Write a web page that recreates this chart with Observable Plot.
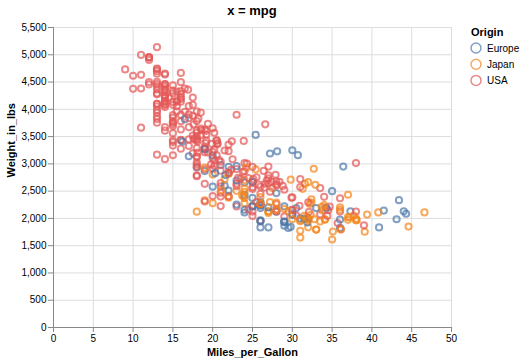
<!DOCTYPE html>
<html><head><meta charset="utf-8">
<script src="https://cdn.jsdelivr.net/npm/d3@7"></script>
<script src="https://cdn.jsdelivr.net/npm/@observablehq/plot@0.6"></script>
<style>
body{margin:0;background:#fff;font-family:"Liberation Sans",Arial,Helvetica,sans-serif;}
#wrap{position:relative;width:525px;height:364px;}
#title{position:absolute;left:0;width:504px;top:3px;text-align:center;font-weight:bold;font-size:13px;color:#000;}
#legend{position:absolute;left:464px;top:22px;}
</style></head>
<body><div id="wrap"><div id="title">x = mpg</div><div id="chart"></div><svg id="legend" width="61" height="70"></svg></div>
<script>
const title = "x = mpg";
const xLabel = "Miles_per_Gallon";
const yLabel = "Weight_in_lbs";
const originNames = {E:"Europe", J:"Japan", U:"USA"};
const origins = ["Europe","Japan","USA"];
const colors = ["#4c78a8","#f58518","#e45756"];
const xTicks = [0,5,10,15,20,25,30,35,40,45,50];
const yTicks = [0,500,1000,1500,2000,2500,3000,3500,4000,4500,5000,5500];

const mpg = [
18,15,18,16,17,15,14,14,14,15,15,14,15,14,24,22,18,21,27,26,25,24,25,26,21,10,10,11,9,
27,28,25,25,19,16,17,19,18,14,14,14,14,12,13,13,18,22,19,18,23,28,30,30,31,35,27,26,24,25,23,20,21,
13,14,15,14,17,11,13,12,13,19,15,13,13,14,18,22,21,26,22,28,23,28,27,
13,14,13,14,15,12,13,13,14,13,12,13,18,16,18,18,23,26,11,12,13,12,18,20,21,22,18,19,21,26,15,16,29,24,20,19,15,24,20,11,
20,21,19,15,31,26,32,25,16,16,18,16,13,14,14,14,29,26,26,31,32,28,24,26,24,26,31,
19,18,15,15,16,15,16,14,17,16,15,18,21,20,13,29,23,20,23,24,25,24,18,29,19,23,23,22,25,33,28,25,25,26,27,
17.5,16,15.5,14.5,22,22,24,22.5,29,24.5,29,33,20,18,18.5,17.5,29.5,32,28,26.5,20,13,19,19,16.5,16.5,13,13,13,
31.5,30,36,25.5,33.5,17.5,17,15.5,15,17.5,20.5,19,18.5,16,15.5,15.5,16,29,24.5,26,25.5,30.5,33.5,30,30.5,22,21.5,21.5,
43.1,36.1,32.8,39.4,36.1,19.9,19.4,20.2,19.2,20.5,20.2,25.1,20.5,19.4,20.6,20.8,18.6,18.1,19.2,17.7,18.1,17.5,30,27.5,27.2,30.9,21.1,23.2,23.8,23.9,20.3,17,21.6,16.2,31.5,29.5,
21.5,19.8,22.3,20.2,20.6,17,17.6,16.5,18.2,16.9,15.5,19.2,18.5,31.9,34.1,35.7,27.4,25.4,23,27.2,23.9,34.2,34.5,31.8,37.3,28.4,28.8,26.8,33.5,
41.5,38.1,32.1,37.2,28,26.4,24.3,19.1,34.3,29.8,31.3,37,32.2,46.6,27.9,40.8,44.3,43.4,36.4,30,44.6,40.9,33.8,29.8,32.7,23.7,35,32.4,
27.2,26.6,25.8,23.5,30,39.1,39,35.1,32.3,37,37.7,34.1,34.7,34.4,29.9,33,33.7,32.4,32.9,31.6,28.1,30.7,25.4,24.2,22.4,26.6,20.2,17.6,28,27,34,31,29,27,24,36,37,31,38,36,36,36,34,38,32,38,25,38,26,22,32,36,27,27,44,32,28,31
];
const weight = [
3504,3693,3436,3433,3449,4341,4354,4312,4425,3850,3563,3609,3761,3086,2372,2833,2774,2587,2130,1835,2672,2430,2375,2234,2648,4615,4376,4382,4732,
2130,2264,2228,2046,2634,3439,3329,3302,3288,4209,4464,4154,4096,4955,4746,5140,3962,2408,3282,3139,2220,2123,2074,2065,1773,1613,1834,1955,2278,2126,2254,2408,2226,
4274,4385,4135,4129,3672,4633,4502,4456,4422,2330,3892,4098,4294,4077,2933,2511,2979,2189,2395,2288,2506,2164,2100,
4100,3672,3988,4042,3777,4952,4464,4363,4237,4735,4951,3821,3121,3278,2945,3021,2904,1950,4997,4906,4654,4499,2789,2279,2401,2379,2124,2310,2472,2265,4082,4278,1867,2158,2582,2868,3399,2660,2807,3664,
3102,2875,2901,3336,1950,2451,1836,2542,3781,3632,3613,4141,4699,4457,4638,4257,2219,1963,2300,1649,2003,2125,2108,2246,2489,2391,2000,
3264,3459,3432,3158,4668,4440,4498,4657,3907,3897,3730,3785,3039,3221,3169,2171,2639,2914,2592,2702,2223,2545,2984,1937,3211,2694,2957,2945,2671,1795,2464,2220,2572,2255,2202,
4215,4190,3962,4215,3233,3353,3012,3085,2035,2164,1937,1795,3651,3574,3645,3193,1825,1990,2155,2565,3150,3940,3270,2930,3820,4380,4055,3870,3755,
2045,2155,1825,2300,1945,3880,4060,4140,4295,3520,3425,3630,3525,4220,4165,4325,4335,1940,2740,2265,2755,2051,2075,1985,2190,2815,2600,2720,
1985,1800,1985,2070,1800,3365,3735,3570,3535,3155,2965,2720,3430,3210,3380,3070,3620,3410,3425,3445,3205,4080,2155,2560,2300,2230,2515,2745,2855,2405,2830,3140,2795,3410,1990,2135,
3245,2990,2890,3265,3360,3840,3725,3955,3830,4360,4054,3605,3940,1925,1975,1915,2670,3530,3900,3190,3420,2200,2150,2020,2130,2670,2595,2700,2556,
2144,1968,2120,2019,2678,2870,3003,3381,2188,2711,2542,2434,2265,2110,2800,2110,2085,2335,2950,3250,1850,1835,2145,1845,2910,2420,2500,2290,
2490,2635,2620,2725,2385,1755,1875,1760,2065,1975,2050,1985,2215,2045,2380,2190,2210,2350,2615,2635,3230,3160,2900,2930,3415,3725,3060,3465,2605,2640,2395,2575,2525,2735,2865,1980,2025,1970,2125,2125,2160,2205,2245,1965,1965,1995,2945,3015,2585,2835,2665,2370,2950,2790,2130,2295,2625,2720
];
const originCode = (
"UUUUUUUUUUUUUUJUUUJEEEEEUUUUU" +
"JUJUUUUUUUUUUUUUUUUUUEEEJJEUJUEUU" +
"UUUUUUUUUJUUUUEEEEUJJUJ" +
"UUUUUUUUUUUUUUUUUEUUUUUJUJJUUEUUEEEEUEJU" +
"UUUUJUJUUUUUUUUUEEEJJUEEJJE" +
"UUUUUUUUUUUUUUUJUUUJEJUEUEEEEJEEUUE" +
"UUUUUUUUUUEJUUUUEJJUEUEJEUUUU" +
"JUEUJUUUUUUUUUUUUEUJUUUJEJEJ" +
"EUJJJUUUUUUUUUUUUUUUUUUJJUJUUJEEEEEJ" +
"UUUUUUUUUUUUUEJUUEUEUUUJEUUUU" +
"EJUJUUUUEJJJJJUJEEEEJEJEJJEJ" +
"UUUUUJUJJJJJUUUEJJJJEEJJUUUUUUUUUUUEJJUUJJJJJJUUUUJUUUEUUU"
).split("");

const data = mpg.map((m, i) => ({mpg: m, weight: weight[i], origin: originNames[originCode[i]]}));

const chart = Plot.plot({
  width: 525, height: 364,
  marginLeft: 53, marginRight: 74, marginTop: 27, marginBottom: 37,
  style: {fontFamily: '"Liberation Sans", Arial, Helvetica, sans-serif', fontSize: "10px", color: "#000", background: "transparent"},
  x: {domain: [0, 50]},
  y: {domain: [0, 5500]},
  color: {domain: origins, range: colors},
  marks: [
    Plot.gridX({ticks: xTicks, stroke: "#ddd", strokeOpacity: 1}),
    Plot.gridY({ticks: yTicks, stroke: "#ddd", strokeOpacity: 1}),
    Plot.axisX({ticks: xTicks, tickSize: 5, tickPadding: 2, stroke: "#888", fill: "#000", label: null}),
    Plot.axisY({ticks: yTicks, tickSize: 5, tickPadding: 2, stroke: "#888", fill: "#000", tickFormat: d3.format(","), label: null}),
    Plot.ruleY([0], {stroke: "#888"}),
    Plot.ruleX([0], {stroke: "#888"}),
    Plot.dot(data, {x: "mpg", y: "weight", stroke: "origin", r: 3.1, strokeWidth: 2, strokeOpacity: 0.7, fill: "none"}),
    Plot.text([xLabel], {frameAnchor: "bottom", dy: 28, fontWeight: "bold", fontSize: 11, fill: "#000"}),
    Plot.text([yLabel], {frameAnchor: "left", dx: -42, rotate: -90, fontWeight: "bold", fontSize: 11, fill: "#000"})
  ]
});
document.getElementById("chart").appendChild(chart);

const leg = d3.select("#legend");
leg.append("text").attr("x", 7).attr("y", 14).attr("font-size", 11).attr("font-weight", "bold").text("Origin");
origins.forEach((o, i) => {
  const g = leg.append("g").attr("transform", `translate(12,${26 + i * 16.2})`);
  g.append("circle").attr("r", 5).attr("fill", "none").attr("stroke", colors[i]).attr("stroke-width", 1.5).attr("stroke-opacity", 0.7);
  g.append("text").attr("x", 11).attr("y", 3.5).attr("font-size", 10).text(o);
});
</script></body></html>
